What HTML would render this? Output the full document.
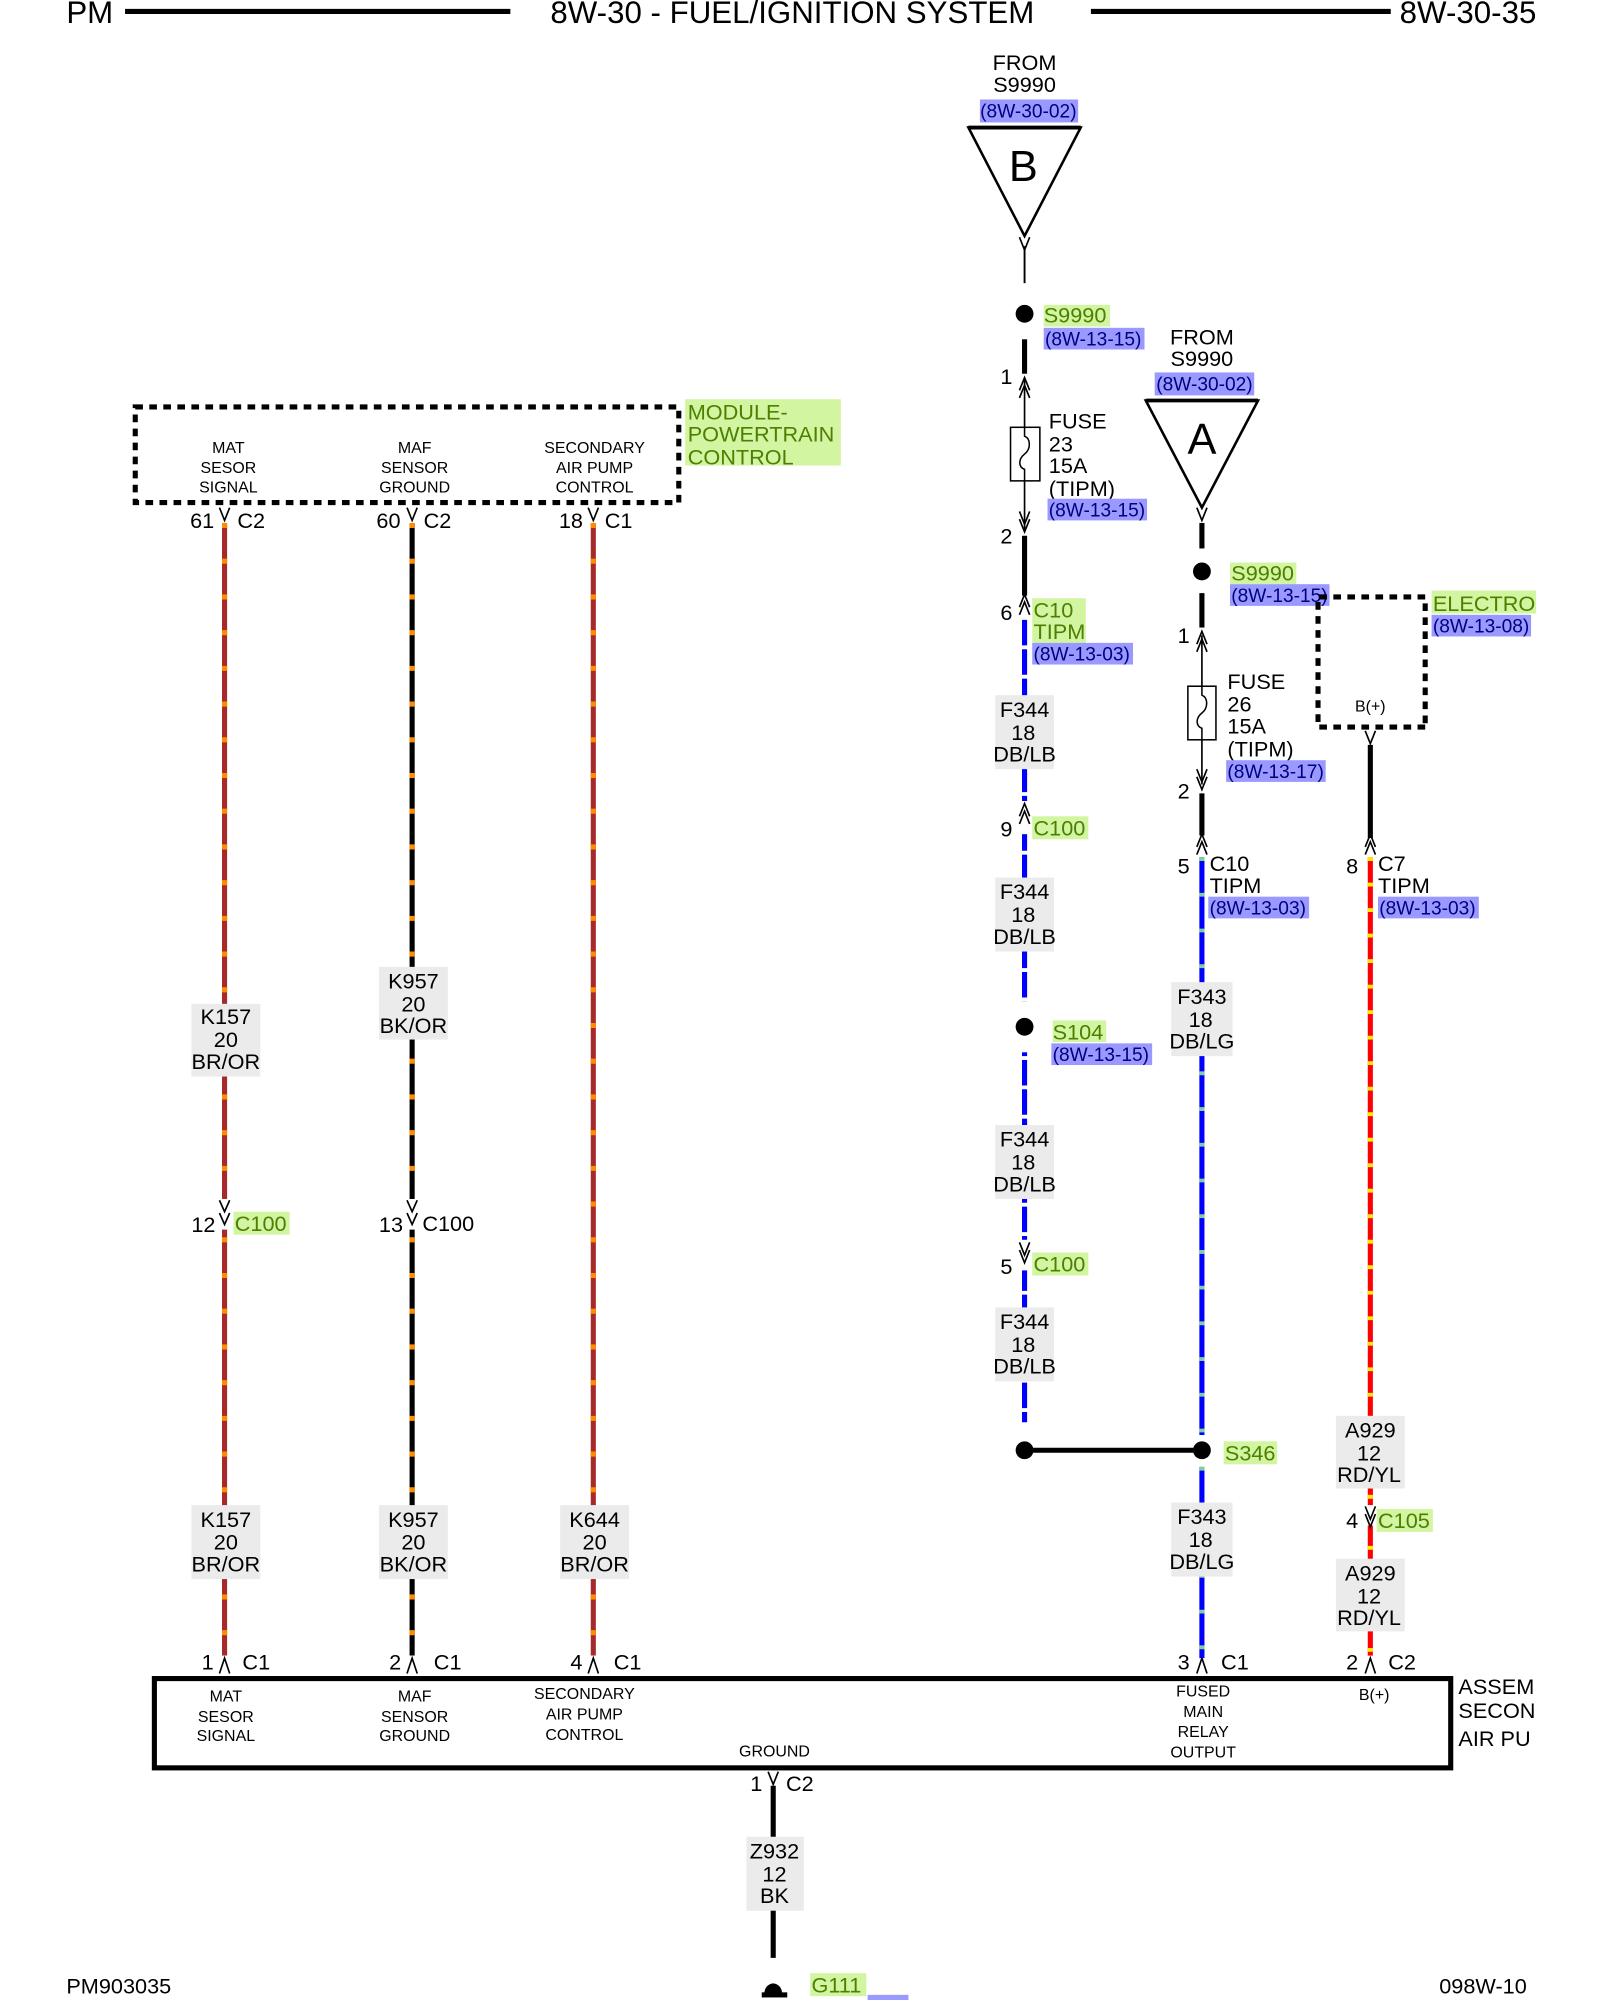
<!DOCTYPE html>
<html><head><meta charset="utf-8"><style>
html,body{margin:0;padding:0;background:#fff;}
svg{display:block;}
text{font-family:"Liberation Sans",sans-serif;fill:#000;}
.g{fill:#4d7f00;}
.b{fill:#000080;}
.wl{font-size:17px;text-anchor:middle;}
.sm{font-size:12.5px;text-anchor:middle;}
.m{font-size:17px;}
.ch{fill:none;stroke:#000;stroke-width:1.3;}
</style></head><body>
<svg width="1600" height="2000" viewBox="0 0 1254 1568" preserveAspectRatio="none" xmlns="http://www.w3.org/2000/svg">
<!-- header -->
<text x="52" y="18" font-size="24.5">PM</text>
<line x1="98" y1="9" x2="400" y2="9" stroke="#000" stroke-width="4"/>
<text x="621" y="18" font-size="24.5" text-anchor="middle">8W-30 - FUEL/IGNITION SYSTEM</text>
<line x1="855" y1="9" x2="1090" y2="9" stroke="#000" stroke-width="4"/>
<text x="1097" y="18" font-size="24.5">8W-30-35</text>

<!-- ===== Left module ===== -->
<rect x="106" y="319" width="426" height="75" fill="none" stroke="#000" stroke-width="4" stroke-dasharray="6 5"/>
<rect x="537" y="313" width="122" height="52" fill="#d2f5a2"/>
<text x="539" y="329" class="m g">MODULE-</text>
<text x="539" y="346" class="m g">POWERTRAIN</text>
<text x="539" y="364" class="m g">CONTROL</text>
<text x="179" y="355" class="sm">MAT</text><text x="179" y="371" class="sm">SESOR</text><text x="179" y="386" class="sm">SIGNAL</text>
<text x="325" y="355" class="sm">MAF</text><text x="325" y="371" class="sm">SENSOR</text><text x="325" y="386" class="sm">GROUND</text>
<text x="466" y="355" class="sm">SECONDARY</text><text x="466" y="371" class="sm">AIR PUMP</text><text x="466" y="386" class="sm">CONTROL</text>

<!-- top connectors left -->
<polyline class="ch" points="172,398 176,408 180,398"/>
<text x="149" y="414" font-size="17">61</text><text x="186" y="414" font-size="17">C2</text>
<polyline class="ch" points="319,398 323,408 327,398"/>
<text x="295" y="414" font-size="17">60</text><text x="332" y="414" font-size="17">C2</text>
<polyline class="ch" points="461,398 465,408 469,398"/>
<text x="438" y="414" font-size="17">18</text><text x="474" y="414" font-size="17">C1</text>

<g stroke-width="4">
<line x1="176" y1="410" x2="176" y2="1298" stroke="#a52a2a"/>
<line x1="176" y1="410" x2="176" y2="1298" stroke="#ff8c00" stroke-dasharray="4 24"/>
<line x1="323" y1="410" x2="323" y2="1298" stroke="#000"/>
<line x1="323" y1="410" x2="323" y2="1298" stroke="#ff8c00" stroke-dasharray="4 24"/>
<line x1="465" y1="410" x2="465" y2="1298" stroke="#a52a2a"/>
<line x1="465" y1="410" x2="465" y2="1298" stroke="#ff8c00" stroke-dasharray="4 24"/>
</g>
<rect x="150" y="787" width="54" height="57" fill="#ebebeb"/>
<text x="177" y="803" class="wl">K157</text><text x="177" y="821" class="wl">20</text><text x="177" y="838" class="wl">BR/OR</text>
<rect x="297" y="758" width="54" height="57" fill="#ebebeb"/>
<text x="324" y="775" class="wl">K957</text><text x="324" y="793" class="wl">20</text><text x="324" y="810" class="wl">BK/OR</text>
<rect x="150" y="1180" width="54" height="58" fill="#ebebeb"/>
<text x="177" y="1197" class="wl">K157</text><text x="177" y="1215" class="wl">20</text><text x="177" y="1232" class="wl">BR/OR</text>
<rect x="297" y="1180" width="54" height="58" fill="#ebebeb"/>
<text x="324" y="1197" class="wl">K957</text><text x="324" y="1215" class="wl">20</text><text x="324" y="1232" class="wl">BK/OR</text>
<rect x="439" y="1180" width="54" height="58" fill="#ebebeb"/>
<text x="466" y="1197" class="wl">K644</text><text x="466" y="1215" class="wl">20</text><text x="466" y="1232" class="wl">BR/OR</text>
<rect x="172" y="940" width="9" height="24" fill="#fff"/>
<polyline class="ch" points="172,941 176,950 180,941"/><polyline class="ch" points="172,951 176,960 180,951"/>
<text x="150" y="966" font-size="17">12</text>
<rect x="183" y="950" width="44" height="18" fill="#d2f5a2"/><text x="184" y="965" font-size="17" class="g">C100</text>
<rect x="319" y="940" width="9" height="24" fill="#fff"/>
<polyline class="ch" points="319,941 323,950 327,941"/><polyline class="ch" points="319,951 323,960 327,951"/>
<text x="297" y="966" font-size="17">13</text>
<text x="331" y="965" font-size="17">C100</text>

<!-- ===== Bottom assembly ===== -->
<rect x="121" y="1316" width="1016" height="70" fill="none" stroke="#000" stroke-width="4"/>
<g>
<rect x="172" y="1298" width="9" height="15" fill="#fff"/>
<polyline class="ch" points="172,1312 176,1300 180,1312"/>
<text x="158" y="1309" font-size="17">1</text><text x="190" y="1309" font-size="17">C1</text>
<rect x="319" y="1298" width="9" height="15" fill="#fff"/>
<polyline class="ch" points="319,1312 323,1300 327,1312"/>
<text x="305" y="1309" font-size="17">2</text><text x="340" y="1309" font-size="17">C1</text>
<rect x="461" y="1298" width="9" height="15" fill="#fff"/>
<polyline class="ch" points="461,1312 465,1300 469,1312"/>
<text x="447" y="1309" font-size="17">4</text><text x="481" y="1309" font-size="17">C1</text>
<rect x="938" y="1298" width="9" height="15" fill="#fff"/>
<polyline class="ch" points="938,1312 942,1300 946,1312"/>
<text x="923" y="1309" font-size="17">3</text><text x="957" y="1309" font-size="17">C1</text>
<rect x="1070" y="1298" width="9" height="15" fill="#fff"/>
<polyline class="ch" points="1070,1312 1074,1300 1078,1312"/>
<text x="1055" y="1309" font-size="17">2</text><text x="1088" y="1309" font-size="17">C2</text>
</g>
<text x="177" y="1334" class="sm">MAT</text><text x="177" y="1350" class="sm">SESOR</text><text x="177" y="1365" class="sm">SIGNAL</text>
<text x="325" y="1334" class="sm">MAF</text><text x="325" y="1350" class="sm">SENSOR</text><text x="325" y="1365" class="sm">GROUND</text>
<text x="458" y="1332" class="sm">SECONDARY</text><text x="458" y="1348" class="sm">AIR PUMP</text><text x="458" y="1364" class="sm">CONTROL</text>
<text x="607" y="1377" class="sm">GROUND</text>
<text x="943" y="1330" class="sm">FUSED</text><text x="943" y="1346" class="sm">MAIN</text><text x="943" y="1362" class="sm">RELAY</text><text x="943" y="1378" class="sm">OUTPUT</text>
<text x="1077" y="1333" class="sm">B(+)</text>
<text x="1143" y="1328" font-size="17">ASSEM</text>
<text x="1143" y="1347" font-size="17">SECON</text>
<text x="1143" y="1369" font-size="17">AIR PU</text>
<rect x="1204" y="1305" width="50" height="80" fill="#fff"/>

<!-- ground -->
<polyline class="ch" points="602,1389 606,1399 610,1389"/>
<text x="588" y="1404" font-size="17">1</text><text x="616" y="1404" font-size="17">C2</text>
<line x1="606" y1="1400" x2="606" y2="1535" stroke="#000" stroke-width="4"/>
<rect x="585" y="1440" width="45" height="58" fill="#ebebeb"/>
<text x="607" y="1457" class="wl">Z932</text><text x="607" y="1475" class="wl">12</text><text x="607" y="1492" class="wl">BK</text>
<path d="M599,1563 A7,8 0 0 1 613,1563 Z" fill="#000"/>
<rect x="597" y="1562" width="20" height="4" fill="#000"/>
<rect x="635" y="1547" width="44" height="18" fill="#d2f5a2"/><text x="636" y="1562" font-size="17" class="g">G111</text>
<rect x="680" y="1564" width="32" height="4" fill="#9999ff"/>
<text x="52" y="1563" font-size="17">PM903035</text>
<text x="1128" y="1563" font-size="17">098W-10</text>

<!-- ===== Column 803 ===== -->
<text x="803" y="55" font-size="17" text-anchor="middle">FROM</text>
<text x="803" y="72" font-size="17" text-anchor="middle">S9990</text>
<rect x="768" y="78" width="77" height="18" fill="#9999ff"/><text x="806" y="92" font-size="15" text-anchor="middle" class="b">(8W-30-02)</text>
<polygon points="759,100 847,100 803,185" fill="#fff" stroke="#000" stroke-width="2"/>
<line x1="759" y1="100" x2="847" y2="100" stroke="#000" stroke-width="3"/>
<text x="802" y="142" font-size="34" text-anchor="middle">B</text>
<polyline class="ch" points="799,186 803,196 807,186"/>
<line x1="803" y1="193" x2="803" y2="222" stroke="#000" stroke-width="1.5"/>
<circle cx="803" cy="246" r="7" fill="#000"/>
<rect x="818" y="239" width="52" height="17" fill="#d2f5a2"/><text x="818" y="253" font-size="17" class="g">S9990</text>
<rect x="818" y="257" width="79" height="17" fill="#9999ff"/><text x="819" y="271" font-size="15" class="b">(8W-13-15)</text>
<line x1="803" y1="266" x2="803" y2="293" stroke="#000" stroke-width="4"/>
<text x="784" y="301" font-size="17">1</text>
<polyline class="ch" points="799,306 803,296 807,306"/><polyline class="ch" points="799,312 803,302 807,312"/>
<line x1="803" y1="298" x2="803" y2="415" stroke="#000" stroke-width="1.3"/>
<rect x="792" y="335" width="23" height="42" fill="#fff" stroke="#000" stroke-width="1.2"/>
<path d="M803,335 v7 c5,2 5,10 0,14 c-5,4 -5,10 0,12 v9" fill="none" stroke="#000" stroke-width="1.2"/>
<text x="822" y="336" font-size="17">FUSE</text><text x="822" y="354" font-size="17">23</text>
<text x="822" y="371" font-size="17">15A</text><text x="822" y="389" font-size="17">(TIPM)</text>
<rect x="821" y="391" width="78" height="17" fill="#9999ff"/><text x="822" y="405" font-size="15" class="b">(8W-13-15)</text>
<polyline class="ch" points="799,401 803,411 807,401"/><polyline class="ch" points="799,407 803,417 807,407"/>
<text x="784" y="426" font-size="17">2</text>
<line x1="803" y1="420" x2="803" y2="467" stroke="#000" stroke-width="4"/>
<polyline class="ch" points="799,476 803,466 807,476"/><polyline class="ch" points="799,482 803,472 807,482"/>
<text x="784" y="486" font-size="17">6</text>
<rect x="809" y="469" width="42" height="35" fill="#d2f5a2"/>
<text x="810" y="484" font-size="17" class="g">C10</text><text x="810" y="501" font-size="17" class="g">TIPM</text>
<rect x="809" y="504" width="79" height="17" fill="#9999ff"/><text x="810" y="518" font-size="15" class="b">(8W-13-03)</text>
<g stroke-width="4">
<line x1="803" y1="486" x2="803" y2="1115" stroke="#0000ff" stroke-dasharray="20 3"/>
</g>
<rect x="795" y="785" width="16" height="40" fill="#fff"/>
<rect x="780" y="545" width="46" height="58" fill="#ebebeb"/>
<text x="803" y="562" class="wl">F344</text><text x="802" y="580" class="wl">18</text><text x="803" y="597" class="wl">DB/LB</text>
<rect x="795" y="628" width="16" height="26" fill="#fff"/>
<polyline class="ch" points="799,640 803,630 807,640"/><polyline class="ch" points="799,646 803,636 807,646"/>
<text x="784" y="656" font-size="17">9</text>
<rect x="809" y="640" width="44" height="18" fill="#d2f5a2"/><text x="810" y="655" font-size="17" class="g">C100</text>
<rect x="780" y="688" width="46" height="58" fill="#ebebeb"/>
<text x="803" y="705" class="wl">F344</text><text x="802" y="723" class="wl">18</text><text x="803" y="740" class="wl">DB/LB</text>
<circle cx="803" cy="805" r="7" fill="#000"/>
<rect x="825" y="800" width="42" height="17" fill="#d2f5a2"/><text x="825" y="815" font-size="17" class="g">S104</text>
<rect x="824" y="818" width="79" height="17" fill="#9999ff"/><text x="825" y="832" font-size="15" class="b">(8W-13-15)</text>
<rect x="780" y="882" width="46" height="58" fill="#ebebeb"/>
<text x="803" y="899" class="wl">F344</text><text x="802" y="917" class="wl">18</text><text x="803" y="934" class="wl">DB/LB</text>
<rect x="795" y="972" width="16" height="24" fill="#fff"/>
<polyline class="ch" points="799,974 803,984 807,974"/><polyline class="ch" points="799,980 803,990 807,980"/>
<text x="784" y="999" font-size="17">5</text>
<rect x="809" y="982" width="44" height="18" fill="#d2f5a2"/><text x="810" y="997" font-size="17" class="g">C100</text>
<rect x="780" y="1025" width="46" height="58" fill="#ebebeb"/>
<text x="803" y="1042" class="wl">F344</text><text x="802" y="1060" class="wl">18</text><text x="803" y="1077" class="wl">DB/LB</text>
<line x1="803" y1="1137" x2="942" y2="1137" stroke="#000" stroke-width="4"/>
<circle cx="803" cy="1137" r="7" fill="#000"/>
<circle cx="942" cy="1137" r="7" fill="#000"/>
<rect x="959" y="1130" width="42" height="18" fill="#d2f5a2"/><text x="960" y="1145" font-size="17" class="g">S346</text>

<!-- ===== Column 942 ===== -->
<text x="942" y="270" font-size="17" text-anchor="middle">FROM</text>
<text x="942" y="287" font-size="17" text-anchor="middle">S9990</text>
<rect x="905" y="292" width="78" height="18" fill="#9999ff"/><text x="944" y="306" font-size="15" text-anchor="middle" class="b">(8W-30-02)</text>
<polygon points="898,314 986,314 942,398" fill="#fff" stroke="#000" stroke-width="2"/>
<line x1="898" y1="314" x2="986" y2="314" stroke="#000" stroke-width="3"/>
<text x="942" y="356" font-size="34" text-anchor="middle">A</text>
<polyline class="ch" points="938,398 942,408 946,398"/>
<line x1="942" y1="410" x2="942" y2="430" stroke="#000" stroke-width="4"/>
<circle cx="942" cy="448" r="7" fill="#000"/>
<rect x="964" y="441" width="52" height="17" fill="#d2f5a2"/><text x="965" y="455" font-size="17" class="g">S9990</text>
<rect x="964" y="458" width="78" height="17" fill="#9999ff"/><text x="965" y="472" font-size="15" class="b">(8W-13-15)</text>
<line x1="942" y1="465" x2="942" y2="492" stroke="#000" stroke-width="4"/>
<text x="923" y="504" font-size="17">1</text>
<polyline class="ch" points="938,505 942,495 946,505"/><polyline class="ch" points="938,511 942,501 946,511"/>
<line x1="942" y1="498" x2="942" y2="615" stroke="#000" stroke-width="1.3"/>
<rect x="931" y="538" width="22" height="42" fill="#fff" stroke="#000" stroke-width="1.2"/>
<path d="M942,538 v7 c5,2 5,10 0,14 c-5,4 -5,10 0,12 v9" fill="none" stroke="#000" stroke-width="1.2"/>
<text x="962" y="540" font-size="17">FUSE</text><text x="962" y="558" font-size="17">26</text>
<text x="962" y="575" font-size="17">15A</text><text x="962" y="593" font-size="17">(TIPM)</text>
<rect x="961" y="596" width="78" height="17" fill="#9999ff"/><text x="962" y="610" font-size="15" class="b">(8W-13-17)</text>
<polyline class="ch" points="938,603 942,613 946,603"/><polyline class="ch" points="938,609 942,619 946,609"/>
<text x="923" y="626" font-size="17">2</text>
<line x1="942" y1="622" x2="942" y2="655" stroke="#000" stroke-width="4"/>
<polyline class="ch" points="938,664 942,654 946,664"/><polyline class="ch" points="938,670 942,660 946,670"/>
<text x="923" y="685" font-size="17">5</text>
<text x="948" y="683" font-size="17">C10</text><text x="948" y="700" font-size="17">TIPM</text>
<rect x="947" y="703" width="79" height="17" fill="#9999ff"/><text x="948" y="717" font-size="15" class="b">(8W-13-03)</text>
<line x1="942" y1="672" x2="942" y2="1125" stroke="#0000ff" stroke-width="4"/>
<line x1="942" y1="672" x2="942" y2="1125" stroke="#7fd0a0" stroke-width="4" stroke-dasharray="3 25"/>
<line x1="942" y1="1150" x2="942" y2="1300" stroke="#0000ff" stroke-width="4"/>
<line x1="942" y1="1150" x2="942" y2="1300" stroke="#7fd0a0" stroke-width="4" stroke-dasharray="3 25"/>
<rect x="918" y="770" width="48" height="58" fill="#ebebeb"/>
<text x="942" y="787" class="wl">F343</text><text x="941" y="805" class="wl">18</text><text x="942" y="822" class="wl">DB/LG</text>
<rect x="918" y="1178" width="48" height="58" fill="#ebebeb"/>
<text x="942" y="1195" class="wl">F343</text><text x="941" y="1213" class="wl">18</text><text x="942" y="1230" class="wl">DB/LG</text>

<!-- ===== Column 1074 ===== -->
<path d="M1117,570 H1033 V468 H1117 Z" fill="none" stroke="#000" stroke-width="4" stroke-dasharray="6 5"/>
<rect x="1122" y="463" width="82" height="18" fill="#d2f5a2"/><text x="1123" y="479" font-size="17" class="g">ELECTRO</text>
<rect x="1122" y="482" width="78" height="17" fill="#9999ff"/><text x="1123" y="496" font-size="15" class="b">(8W-13-08)</text>
<rect x="1204" y="455" width="50" height="50" fill="#fff"/>
<text x="1074" y="558" class="sm">B(+)</text>
<polyline class="ch" points="1070,573 1074,583 1078,573"/>
<line x1="1074" y1="584" x2="1074" y2="657" stroke="#000" stroke-width="4"/>
<polyline class="ch" points="1070,664 1074,654 1078,664"/><polyline class="ch" points="1070,670 1074,660 1078,670"/>
<text x="1055" y="685" font-size="17">8</text>
<text x="1080" y="683" font-size="17">C7</text><text x="1080" y="700" font-size="17">TIPM</text>
<rect x="1080" y="703" width="79" height="17" fill="#9999ff"/><text x="1081" y="717" font-size="15" class="b">(8W-13-03)</text>
<line x1="1074" y1="672" x2="1074" y2="1298" stroke="#ff0000" stroke-width="4"/>
<line x1="1074" y1="672" x2="1074" y2="1298" stroke="#ffee00" stroke-width="4" stroke-dasharray="3 17"/>
<rect x="1047" y="1110" width="54" height="57" fill="#ebebeb"/>
<text x="1074" y="1127" class="wl">A929</text><text x="1073" y="1145" class="wl">12</text><text x="1073" y="1162" class="wl">RD/YL</text>
<rect x="1068" y="1180" width="12" height="16" fill="#fff"/>
<polyline class="ch" points="1070,1181 1074,1191 1078,1181"/><polyline class="ch" points="1070,1187 1074,1197 1078,1187"/>
<text x="1055" y="1198" font-size="17">4</text>
<rect x="1079" y="1183" width="44" height="18" fill="#d2f5a2"/><text x="1080" y="1198" font-size="17" class="g">C105</text>
<rect x="1047" y="1222" width="54" height="57" fill="#ebebeb"/>
<text x="1074" y="1239" class="wl">A929</text><text x="1073" y="1257" class="wl">12</text><text x="1073" y="1274" class="wl">RD/YL</text>
</svg>
</body></html>
